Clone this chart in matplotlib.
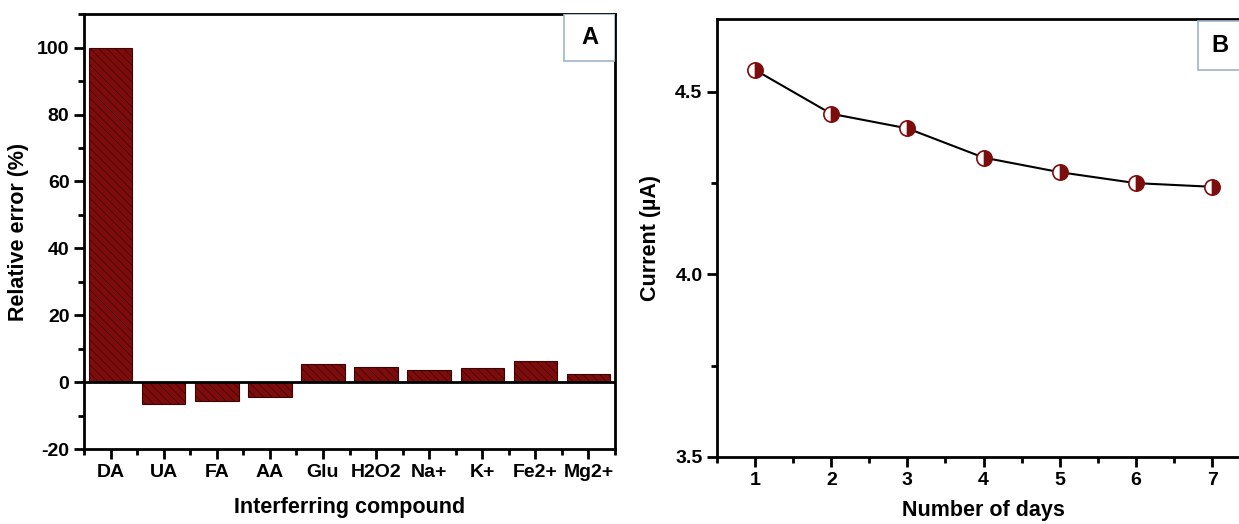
import numpy as np
import matplotlib
matplotlib.use('Agg')
import matplotlib.pyplot as plt
from matplotlib.ticker import MultipleLocator, FormatStrFormatter
from matplotlib.patches import Rectangle

plt.rcParams['font.family'] = ['Liberation Sans', 'DejaVu Sans']
plt.rcParams['font.weight'] = 'bold'
plt.rcParams['hatch.linewidth'] = 0.45
plt.rcParams['axes.unicode_minus'] = False

# panel A data
compounds = ['DA', 'UA', 'FA', 'AA', 'Glu', 'H2O2', 'Na+', 'K+', 'Fe2+', 'Mg2+']
rel_error = [100, -6.6, -5.6, -4.4, 5.5, 4.5, 3.5, 4.3, 6.2, 2.5]

# panel B data
days = [1, 2, 3, 4, 5, 6, 7]
current = [4.56, 4.44, 4.40, 4.32, 4.28, 4.25, 4.24]

bar_color = '#7d0c0c'

fig = plt.figure(figsize=(12.39, 5.24), dpi=100)
fig.patch.set_facecolor('white')

# ---- panel A ----
ax1 = fig.add_axes([0.0678, 0.143, 0.4286, 0.830])
x = np.arange(len(compounds))
ax1.bar(x, rel_error, width=0.82, color=bar_color, edgecolor='#3a0505',
        linewidth=0.8, hatch='\\\\\\\\')
ax1.axhline(0, color='black', lw=2)
ax1.set_xlim(-0.5, len(compounds) - 0.5)
ax1.set_ylim(-20, 110)
ax1.set_xticks(x)
ax1.set_xticklabels(compounds)
ax1.set_xticks(np.arange(-0.5, len(compounds), 1.0), minor=True)
ax1.yaxis.set_major_locator(MultipleLocator(20))
ax1.yaxis.set_minor_locator(MultipleLocator(10))
ax1.set_ylabel('Relative error (%)', fontsize=15.5, fontweight='bold', labelpad=6)
ax1.set_xlabel('Interferring compound', fontsize=15.5, fontweight='bold', labelpad=12)
ax1.add_patch(Rectangle((0.903, 0.892), 0.097, 0.108, transform=ax1.transAxes,
                        facecolor='white', edgecolor='#9fb4cc', lw=1.2, zorder=5))
ax1.text(0.952, 0.946, 'A', transform=ax1.transAxes, ha='center', va='center',
         fontsize=17, fontweight='bold', zorder=6)

# ---- panel B ----
ax2 = fig.add_axes([0.5787, 0.128, 0.4303, 0.836])
ax2.plot(days, current, color='black', lw=1.5, marker='o', markersize=11,
         fillstyle='right', markerfacecolor=bar_color, markerfacecoloralt='white',
         markeredgecolor=bar_color, markeredgewidth=1.2)
ax2.set_xlim(0.5, 7.5)
ax2.set_ylim(3.5, 4.7)
ax2.xaxis.set_major_locator(MultipleLocator(1))
ax2.xaxis.set_minor_locator(MultipleLocator(0.5))
ax2.yaxis.set_major_locator(MultipleLocator(0.5))
ax2.yaxis.set_minor_locator(MultipleLocator(0.25))
ax2.yaxis.set_major_formatter(FormatStrFormatter('%.1f'))
ax2.set_ylabel('Current (µA)', fontsize=15.5, fontweight='bold', labelpad=10)
ax2.set_xlabel('Number of days', fontsize=15.5, fontweight='bold', labelpad=8)
ax2.add_patch(Rectangle((0.903, 0.884), 0.12, 0.11, transform=ax2.transAxes,
                        facecolor='white', edgecolor='#9fb4cc', lw=1.2, zorder=5,
                        clip_on=False))
ax2.text(0.944, 0.94, 'B', transform=ax2.transAxes, ha='center', va='center',
         fontsize=17, fontweight='bold', zorder=6)

for ax in (ax1, ax2):
    for s in ax.spines.values():
        s.set_linewidth(2)
    ax.tick_params(which='major', direction='out', length=7, width=2, labelsize=14)
    ax.tick_params(which='minor', direction='out', length=4, width=2)
    for lab in ax.get_xticklabels() + ax.get_yticklabels():
        lab.set_fontweight('bold')

fig.savefig('out.png', dpi=100)
